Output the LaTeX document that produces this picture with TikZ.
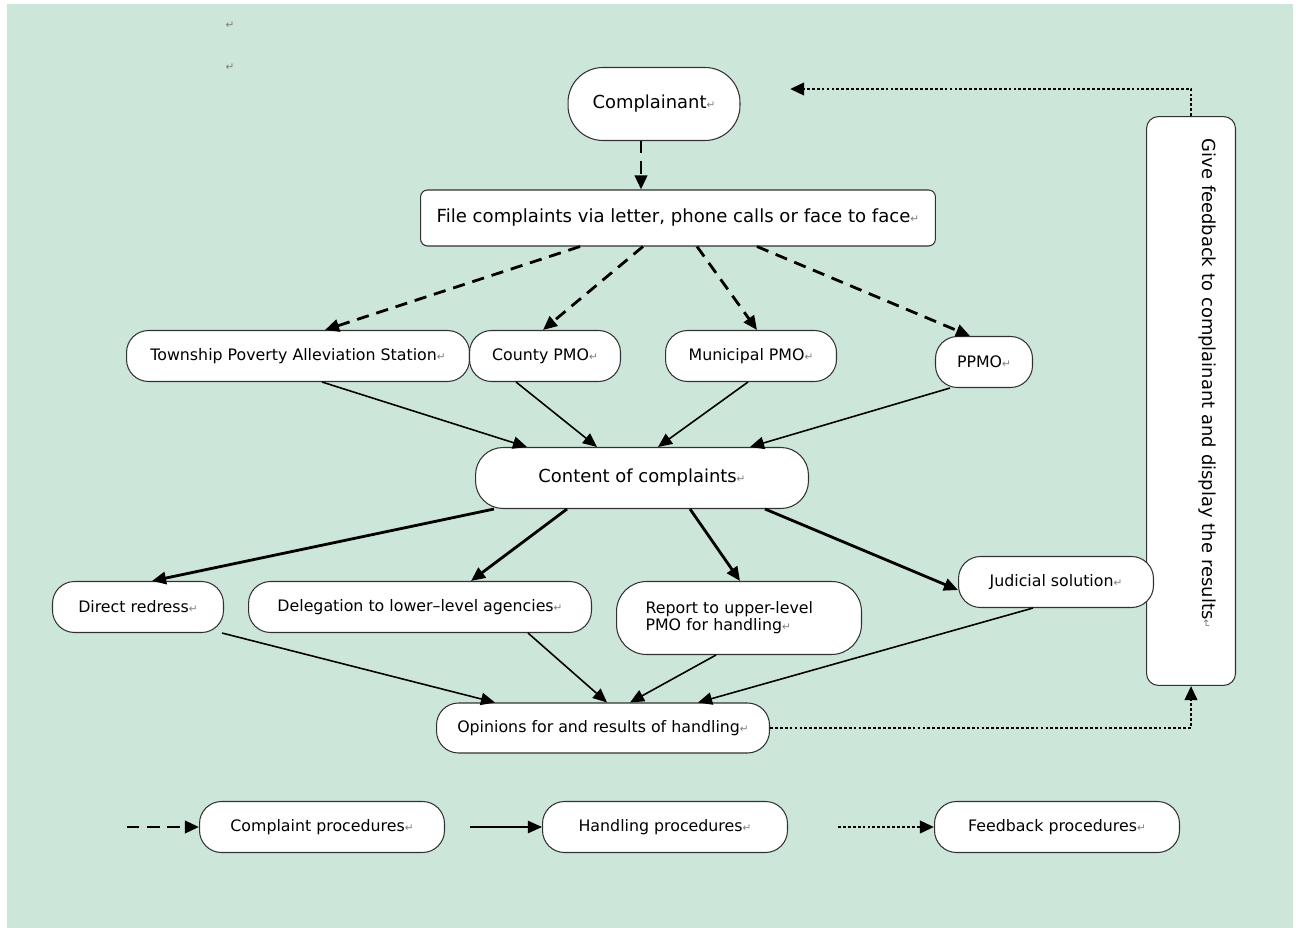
\documentclass[tikz,border=0pt]{standalone}
\usepackage{fontspec}
\setmainfont{DejaVu Sans}
\usetikzlibrary{calc,arrows.meta}

\definecolor{bggreen}{RGB}{205,230,218}
\definecolor{edgegray}{RGB}{50,50,50}
\newcommand\retmark{{\color{black!50}\fontsize{6}{6}\selectfont ↵}}

\begin{document}
\begin{tikzpicture}[x=0.02cm,y=-0.02cm,
  pill/.style={draw=edgegray,fill=white,line width=0.6pt,rounded corners=0.44cm,inner sep=0pt,
    minimum height=1.02cm,font=\fontsize{9}{9.6}\selectfont},
  complain/.style={-{Triangle[length=8pt,width=7pt]},line width=1.6pt,dash pattern=on 7pt off 4.5pt},
  handle/.style={-{Triangle[length=8pt,width=7pt]},line width=0.9pt},
  handlebold/.style={-{Triangle[length=8pt,width=7pt]},line width=1.6pt},
  feedback/.style={-{Triangle[length=8pt,width=7pt]},line width=1.6pt,dash pattern=on 1.6pt off 1.2pt}]
  \useasboundingbox (0,0) rectangle (1300,928);
  \fill[white] (0,0) rectangle (1300,928);
  \fill[bggreen] (7,4) rectangle (1293,928);
  \node (pm1) at (230,25) {\retmark};
  \node (pm2) at (230,67) {\retmark};
  % feedback (under the judicial box)
  \node[pill,rotate=-90,minimum width=11.38cm,minimum height=1.78cm,rounded corners=0.24cm,text width=10.5cm,align=left,text depth=0.75cm,font=\fontsize{10.2}{12}\selectfont] (fb) at (1191,401) {Give feedback to complainant and display the results\retmark};
  \coordinate (ret) at (790,89);
  % complaint side
  \node[pill,minimum width=3.44cm,minimum height=1.46cm,rounded corners=0.7cm,font=\fontsize{10.2}{12}\selectfont] (cpl) at (654,104) {Complainant\retmark};
  \node[pill,rounded corners=0.14cm,minimum width=10.3cm,minimum height=1.12cm,font=\fontsize{10.3}{12}\selectfont] (file) at (678,218) {File complaints via letter, phone calls or face to face\retmark};
  \node[pill,minimum width=6.86cm] (tps) at (298,356) {Township Poverty Alleviation Station\retmark};
  \node[pill,minimum width=3.02cm] (cty) at (545,356) {County PMO\retmark};
  \node[pill,minimum width=3.42cm] (mun) at (751,356) {Municipal PMO\retmark};
  \node[pill,minimum width=1.94cm] (ppmo) at (984,362) {PPMO\retmark};
  \node[pill,minimum width=6.66cm,minimum height=1.22cm,rounded corners=0.55cm,font=\fontsize{10.2}{12}\selectfont] (con) at (642,478) {Content of complaints\retmark};
  % handling
  \node[pill,minimum width=3.42cm] (dir) at (138,607) {Direct redress\retmark};
  \node[pill,minimum width=6.86cm] (dlg) at (420,607) {Delegation to lower--level agencies\retmark};
  \node[pill,minimum width=4.9cm,minimum height=1.46cm,rounded corners=0.6cm,text width=3.74cm,align=left] (rep) at (739,618) {Report to upper-level\\PMO for handling\retmark};
  \node[pill,minimum width=3.9cm] (jud) at (1056,582) {Judicial solution\retmark};
  \node[pill,minimum width=6.66cm,minimum height=1.0cm] (opn) at (603,728) {Opinions for and results of handling\retmark};

  \draw[complain] ($(cpl.south)+(-13,0)$) -- ($(file.north)+(-37,0)$);
  \foreach \a/\da/\b/\db in {file/-98/tps/27,file/-35/cty/-2,file/19/mun/6,file/79/ppmo/-14}
    \draw[complain] ($(\a.south)+(\da,0)$) -- ($(\b.north)+(\db,0)$);
  \foreach \a/\da/\b/\db in {tps/24/con/-115,cty/-29/con/-45,mun/-3/con/16,ppmo/-34/con/108}
    \draw[handle] ($(\a.south)+(\da,0)$) -- ($(\b.north)+(\db,0)$);
  \foreach \a/\da/\b/\db in {con/-148/dir/14,con/-75/dlg/51,con/48/rep/1}
    \draw[handlebold] ($(\a.south)+(\da,0)$) -- ($(\b.north)+(\db,0)$);
  \draw[handlebold] ($(con.south)+(123,0)$) -- ($(jud.west)+(0,8)$);
  \foreach \a/\da/\b/\db in {dir/84/opn/-108,dlg/108/opn/4,rep/-23/opn/27,jud/-23/opn/95}
    \draw[handle] ($(\a.south)+(\da,0)$) -- ($(\b.north)+(\db,0)$);
  \draw[feedback] (opn.east) -| (fb.east);
  \draw[feedback] (fb.west) |- (ret);

  % legend
  \node[pill,minimum width=4.9cm] (lc1) at (322,827) {Complaint procedures\retmark};
  \node[pill,minimum width=4.9cm] (lc2) at (665,827) {Handling procedures\retmark};
  \node[pill,minimum width=4.9cm] (lc3) at (1057,827) {Feedback procedures\retmark};
  \coordinate (lg1) at (127,827);
  \coordinate (lg2) at (470,827);
  \coordinate (lg3) at (838,827);
  \draw[complain] (lg1) -- (lc1.west);
  \draw[handle] (lg2) -- (lc2.west);
  \draw[feedback] (lg3) -- (lc3.west);
\end{tikzpicture}
\end{document}
